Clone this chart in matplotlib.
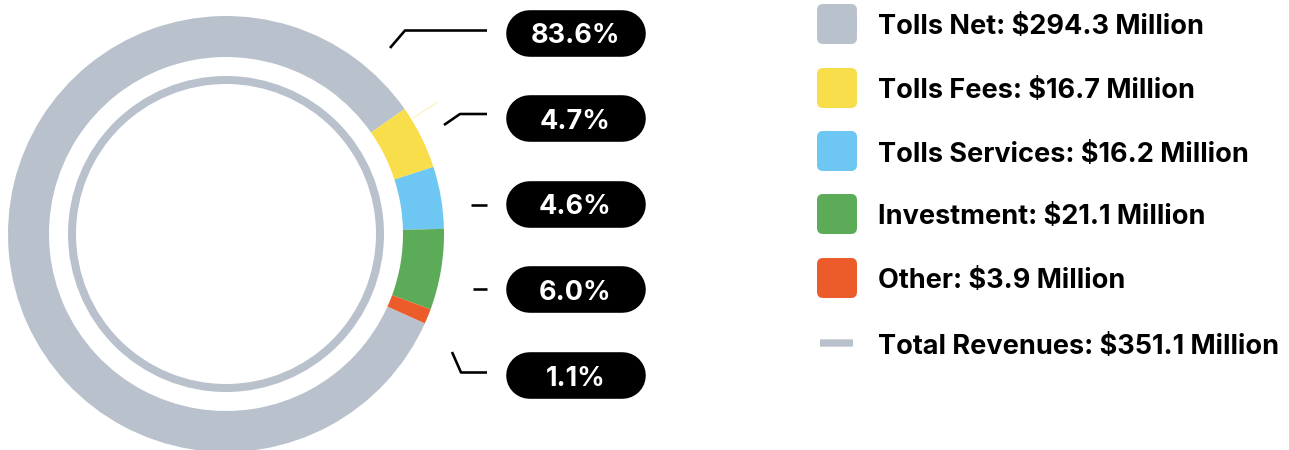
import matplotlib.pyplot as plt
from matplotlib.patches import FancyBboxPatch, Circle

# revenue breakdown ($ millions)
categories = ["Tolls Net", "Tolls Fees", "Tolls Services", "Investment", "Other"]
values = [294.3, 16.7, 16.2, 21.1, 3.9]
total_revenues = 351.1
colors = ["#B9C1CC", "#F8DE4B", "#6DC7F2", "#5CAB59", "#EC5B2A"]

W, H = 1289, 450
FONT = "Inter"

fig = plt.figure(figsize=(W / 100, H / 100), dpi=100)
ax = fig.add_axes([0, 0, 1, 1])


def py(y):
    # pixel row (from top) -> data y
    return H - y


cx, cy = 226, py(234)
ax.pie(values, colors=colors, startangle=-24.2, counterclock=False,
       center=(cx, cy), radius=218, frame=True,
       wedgeprops=dict(width=41, linewidth=0))
ax.add_patch(Circle((cx, cy), 154, fill=False, lw=8 * 0.72, color=colors[0]))

# faint yellow tick off the fees slice
ax.plot([413, 438], [py(118), py(102)], color="#F8DE4B", lw=0.8, alpha=0.4)

# percent pills on the right
total = sum(values)
pill_y = [32.7, 118.3, 203.5, 289.3, 375]
leaders = [
    [(390, 48), (405, 30.5), (487, 30.5)],
    [(444, 125), (460, 114), (487, 114)],
    [(471, 205), (487, 205)],
    [(473, 289), (487, 289)],
    [(452, 352), (461, 372.5), (487, 372.5)],
]
for v, yc, pts in zip(values, pill_y, leaders):
    xs = [p[0] for p in pts]
    ys = [py(p[1]) for p in pts]
    ax.plot(xs, ys, color="black", lw=2.6 * 0.72, solid_capstyle="butt")
    # pill: thick line with round caps
    ax.plot([506 + 23.3, 645 - 23.3], [py(yc), py(yc)], color="black",
            lw=46.6 * 0.72, solid_capstyle="round")
    ax.text(575.5, py(yc + 10.7), f"{v / total * 100:.1f}%", color="white",
            fontsize=19.5, fontweight="bold", family=FONT,
            ha="center", va="baseline")

# legend
leg_y = [24, 88, 151, 214, 278]
for cat, v, c, yc in zip(categories, values, colors, leg_y):
    ax.add_patch(FancyBboxPatch((817, py(yc) - 20), 40, 40,
                                boxstyle="round,pad=0,rounding_size=6",
                                fc=c, ec="none"))
    ax.text(878, py(yc + 10.5), f"{cat}: ${v:.1f} Million", color="black",
            fontsize=19.5, fontweight="bold", family=FONT, va="baseline")

ax.add_patch(FancyBboxPatch((820, py(343) - 3.7), 33, 7.4,
                            boxstyle="round,pad=0,rounding_size=1",
                            fc=colors[0], ec="none"))
ax.text(878, py(343 + 10.5), f"Total Revenues: ${total_revenues:.1f} Million",
        color="black", fontsize=19.5, fontweight="bold", family=FONT, va="baseline")

ax.set_xlim(0, W)
ax.set_ylim(0, H)
ax.set_aspect("equal")
ax.axis("off")

fig.savefig("out.png", dpi=100, facecolor="white")
